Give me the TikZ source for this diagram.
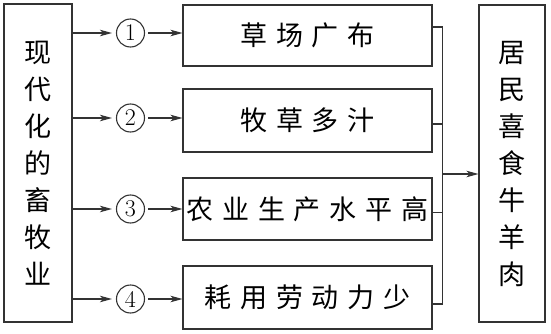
\documentclass[tikz,border=0pt]{standalone}
\usepackage{fontspec}
\newfontfamily\cjk{Noto Sans CJK SC}
\usetikzlibrary{arrows.meta,calc}
\newcommand\ck{\kern8.7pt}
\begin{document}
\begin{tikzpicture}[x=1pt,y=-1pt,
  line width=1.1pt, draw=black!80,
  box/.style={draw, line width=1.1pt, inner sep=0pt},
  vtext/.style={box, align=center, font=\cjk\fontsize{27}{37}\selectfont},
  htext/.style={box, minimum width=249pt, font=\cjk\fontsize{27}{32}\selectfont},
  num/.style={draw, circle, minimum size=28pt, inner sep=0pt, line width=1.1pt, font=\fontsize{24}{24}\selectfont},
  arr/.style={-{Stealth[length=12pt,width=6.5pt,inset=3pt]}, line width=1.1pt}]
\useasboundingbox (0,0) rectangle (551,334);
% left box
\node[vtext, minimum width=68pt, minimum height=318pt] (L) at (38,163) {现\\代\\化\\的\\畜\\牧\\业};
% right box
\node[vtext, minimum width=66pt, minimum height=317pt] (R) at (512,163.5) {居\\民\\喜\\食\\牛\\羊\\肉};
% middle boxes
\node[htext, minimum height=61pt] (b1) at (307.5,35.5) {草\ck 场\ck 广\ck 布};
\node[htext, minimum height=63pt] (b2) at (307.5,120.5) {牧\ck 草\ck 多\ck 汁};
\node[htext, minimum height=62pt] (b3) at (307.5,209) {农\ck 业\ck 生\ck 产\ck 水\ck 平\ck 高};
\node[htext, minimum height=63pt] (b4) at (307.5,297.5) {耗\ck 用\ck 劳\ck 动\ck 力\ck 少};
% circled numbers
\node[num] (n1) at (130.5,33) {1};
\node[num] (n2) at (130.5,118) {2};
\node[num] (n3) at (130.5,209) {3};
\node[num] (n4) at (130.5,299) {4};
% arrows left box -> numbers -> boxes
\foreach \i in {1,2,3,4}{
  \draw[arr, shorten >=4pt] (L.east |- n\i) -- (n\i.west);
  \draw[arr, shorten <=3pt] (n\i.east) -- (b\i.west |- n\i);
}
% collector
\coordinate (bus) at (442.5,174);
\draw ([yshift=8.5pt]b1.east) -- ([yshift=8.5pt]b1.east -| bus) -- ([yshift=-6.5pt]b4.east -| bus) -- ([yshift=-6.5pt]b4.east);
\draw ([yshift=-3.5pt]b2.east) -- ([yshift=-3.5pt]b2.east -| bus);
\draw ([yshift=-3.5pt]b3.east) -- ([yshift=-3.5pt]b3.east -| bus);
\draw[arr] (bus) -- (R.west |- bus);
\end{tikzpicture}
\end{document}
